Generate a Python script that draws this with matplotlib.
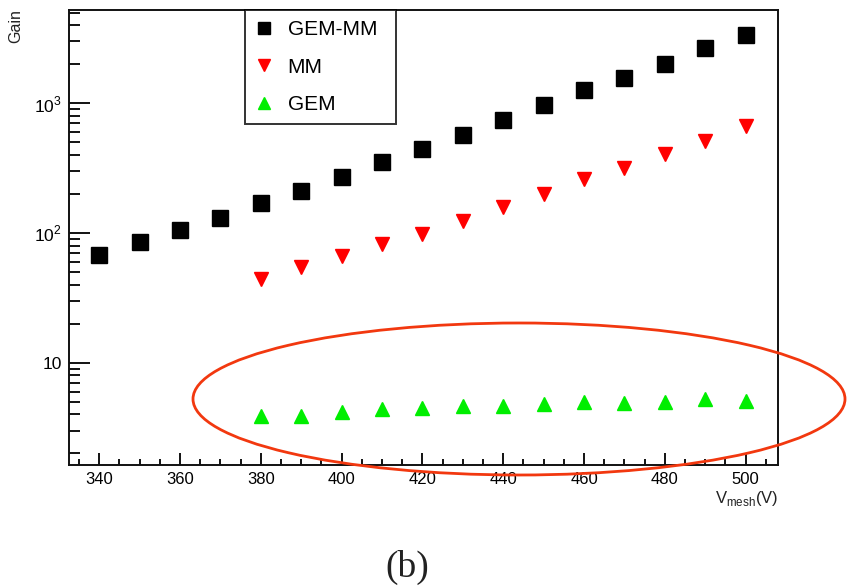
import matplotlib
matplotlib.use("Agg")
import matplotlib.pyplot as plt
from matplotlib.patches import Ellipse
from matplotlib.ticker import FixedLocator, FixedFormatter, MultipleLocator
import numpy as np

plt.rcParams['font.family'] = ['Liberation Sans', 'DejaVu Sans']
plt.rcParams['mathtext.fontset'] = 'custom'
plt.rcParams['mathtext.rm'] = 'Liberation Sans'

v_gemmm = [340, 350, 360, 370, 380, 390, 400, 410, 420, 430, 440, 450, 460, 470, 480, 490, 500]
gain_gemmm = [68, 85, 105, 131, 171, 211, 272, 355, 443, 574, 742, 966, 1270, 1556, 2015, 2685, 3342]

v_mm = [380, 390, 400, 410, 420, 430, 440, 450, 460, 470, 480, 490, 500]
gain_mm = [44.6, 54.7, 66, 82.4, 98.3, 123, 158.5, 201, 259, 319, 405, 513, 665]

v_gem = [380, 390, 400, 410, 420, 430, 440, 450, 460, 470, 480, 490, 500]
gain_gem = [3.92, 3.92, 4.17, 4.37, 4.51, 4.63, 4.67, 4.81, 4.99, 4.90, 4.99, 5.29, 5.10]

labels = ["GEM-MM", "MM", "GEM"]
ytick_vals = [10, 100, 1000]
ytick_labels = ["10", r"$10^{2}$", r"$10^{3}$"]
xtick_vals = [340, 360, 380, 400, 420, 440, 460, 480, 500]

W, H = 850, 586
fig = plt.figure(figsize=(W / 100, H / 100), dpi=100)
ax = fig.add_axes([69 / W, 1 - 465 / H, 709 / W, 455 / H])

ax.plot(v_gemmm, gain_gemmm, 's', color='black', ms=11, mec='black', label=labels[0], linestyle='none')
ax.plot(v_mm, gain_mm, 'v', color='#ff0000', ms=10.5, mec='#ff0000', label=labels[1], linestyle='none')
ax.plot(v_gem, gain_gem, '^', color='#00ee00', ms=10.5, mec='#00ee00', label=labels[2], linestyle='none')

ax.set_yscale('log')
ax.set_xlim(332.5, 508)
ax.set_ylim(1.63, 5240)

ax.xaxis.set_major_locator(FixedLocator(xtick_vals))
ax.xaxis.set_minor_locator(MultipleLocator(5))
ax.yaxis.set_major_locator(FixedLocator(ytick_vals))
ax.yaxis.set_major_formatter(FixedFormatter(ytick_labels))
minor_y = [m * 10 ** e for e in range(0, 4) for m in range(2, 10)]
ax.yaxis.set_minor_locator(FixedLocator(minor_y))
ax.yaxis.set_minor_formatter(FixedFormatter([""] * len(minor_y)))

for s in ax.spines.values():
    s.set_linewidth(1.4)
    s.set_color('#111111')

ax.tick_params(axis='x', which='major', direction='in', length=8.6, width=1.3, labelsize=12, pad=5, top=False)
ax.tick_params(axis='x', which='minor', direction='in', length=4.3, width=1.3, top=False)
ax.tick_params(axis='y', which='major', direction='in', length=15, width=1.3, labelsize=12.5, pad=5, right=False)
ax.tick_params(axis='y', which='minor', direction='in', length=8, width=1.3, right=False)

leg = ax.legend(loc='upper left', bbox_to_anchor=((245 - 69) / 709, 1.0, 151 / 709, 0.0),
                mode='expand', borderaxespad=0, frameon=True, fancybox=False,
                edgecolor='black', fontsize=15, handlelength=0.8, handletextpad=0.75,
                labelspacing=0.88, borderpad=0.5, markerscale=0.85)
leg.get_frame().set_linewidth(1.4)

fig.text(16 / W, 1 - 9 / H, "Gain", rotation=90, ha='center', va='top', fontsize=11.5, color='#222222')
fig.text(778 / W, 1 - 498 / H, r"V$_{\mathrm{mesh}}$(V)", ha='right', va='center', fontsize=12, color='#222222')

ell = Ellipse((519 / W, 1 - 399 / H), 652 / W, 152 / H, transform=fig.transFigure,
              fill=False, edgecolor='#f2380f', linewidth=2.0, clip_on=False)
fig.add_artist(ell)

fig.text(407 / W, 1 - 567 / H, "(b)", ha='center', va='center', fontsize=27,
         family=['Liberation Serif', 'DejaVu Serif'], color='#222222')

fig.savefig("out.png", dpi=100)
